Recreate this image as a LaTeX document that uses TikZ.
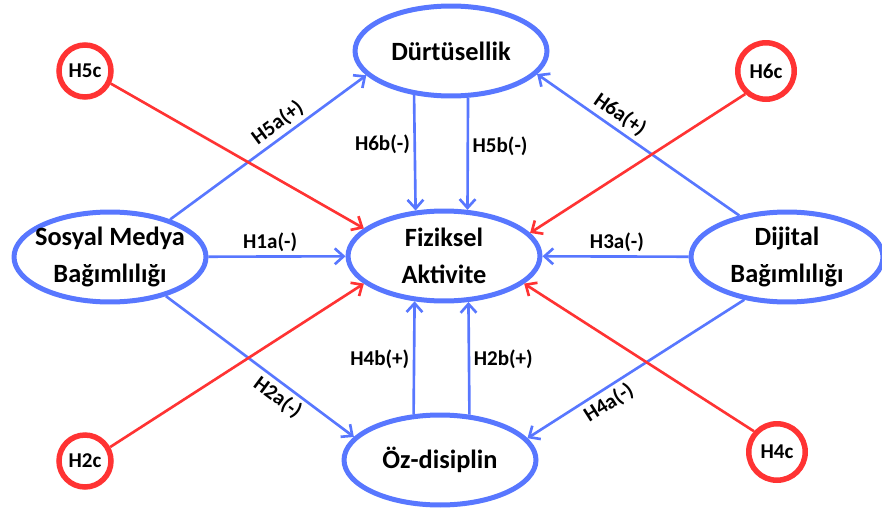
\documentclass[tikz,border=0pt]{standalone}
\usepackage{fontspec}
\setmainfont{Carlito}
\usetikzlibrary{shapes.geometric,arrows.meta}
\definecolor{varblue}{RGB}{88,119,255}
\definecolor{modred}{RGB}{255,51,51}

\begin{document}
\begin{tikzpicture}
[
x = 0.02cm, y = -0.02cm,
>={Straight Barb[length=5pt,width=9pt]},
var/.style = {draw = varblue, ellipse, line width = 0.1cm, minimum width = 3.84cm, minimum height = 1.8cm, inner sep = 1pt, align = center, font = \bfseries\fontsize{15}{21}\selectfont},
moderator/.style = {draw = modred, circle, line width = 0.11cm, minimum size = 1.04cm, inner sep = 0pt, font = \bfseries\fontsize{12}{14}\selectfont},
link/.style = {->, varblue, line width = 1.5pt},
modlink/.style = {->, modred, line width = 1.5pt},
lbl/.style = {black, inner sep = 2pt, font = \bfseries\fontsize{12}{14}\selectfont},
]

\useasboundingbox (0,0) rectangle (882,514);

\node (D) at (451,51) [var] {Dürtüsellik};
\node (F) at (444,256) [var] {Fiziksel\\Aktivite};
\node (S) at (110,257) [var, inner xsep = -4pt] {Sosyal Medya\\Bağımlılığı};
\node (J) at (787,257) [var] {Dijital\\Bağımlılığı};
\node (O) at (440,460) [var] {Öz-disiplin};

\node (H5c) at (85,71) [moderator] {H5c};
\node (H6c) at (766,71) [moderator, minimum size = 1.13cm] {H6c};
\node (H2c) at (85,461) [moderator] {H2c};
\node (H4c) at (777,452) [moderator, minimum size = 1.13cm] {H4c};

\draw[link] (S.32) -- node[lbl, sloped, above, pos = .59] (l5a) {H5a(+)} (D.196);
\draw[link] (D.230) -- node[lbl, left, pos = .43] (l6b) {H6b(-)} (F.122);
\draw[link] (D.290) -- node[lbl, right, pos = .43] (l5b) {H5b(-)} (F.63);
\draw[link] (J.139) -- node[lbl, sloped, above, pos = .63] (l6a) {H6a(+)} (D.345);
\draw[link] (S) -- node[lbl, above, pos = .45] (l1a) {H1a(-)} (F);
\draw[link] (J) -- node[lbl, above, pos = .49] (l3a) {H3a(-)} (F);
\draw[link] (S.-35) -- node[lbl, sloped, below, pos = .64] (l2a) {H2a(-)} (O.165);
\draw[link] (J.225) -- node[lbl, sloped, below, pos = .66] (l4a) {H4a(-)} (O.14);
\draw[link] (O.120) -- node[lbl, left, pos = .49] (l4b) {H4b(+)} (F.237);
\draw[link] (O.57) -- node[lbl, right, pos = .49] (l2b) {H2b(+)} (F.298);

\draw[modlink] (H5c.-26) -- (F.161);
\draw[modlink] (H6c.228) -- (F.15);
\draw[modlink] (H2c.29) -- (F.199);
\draw[modlink] (H4c.138) -- (F.341);
\end{tikzpicture}
\end{document}
